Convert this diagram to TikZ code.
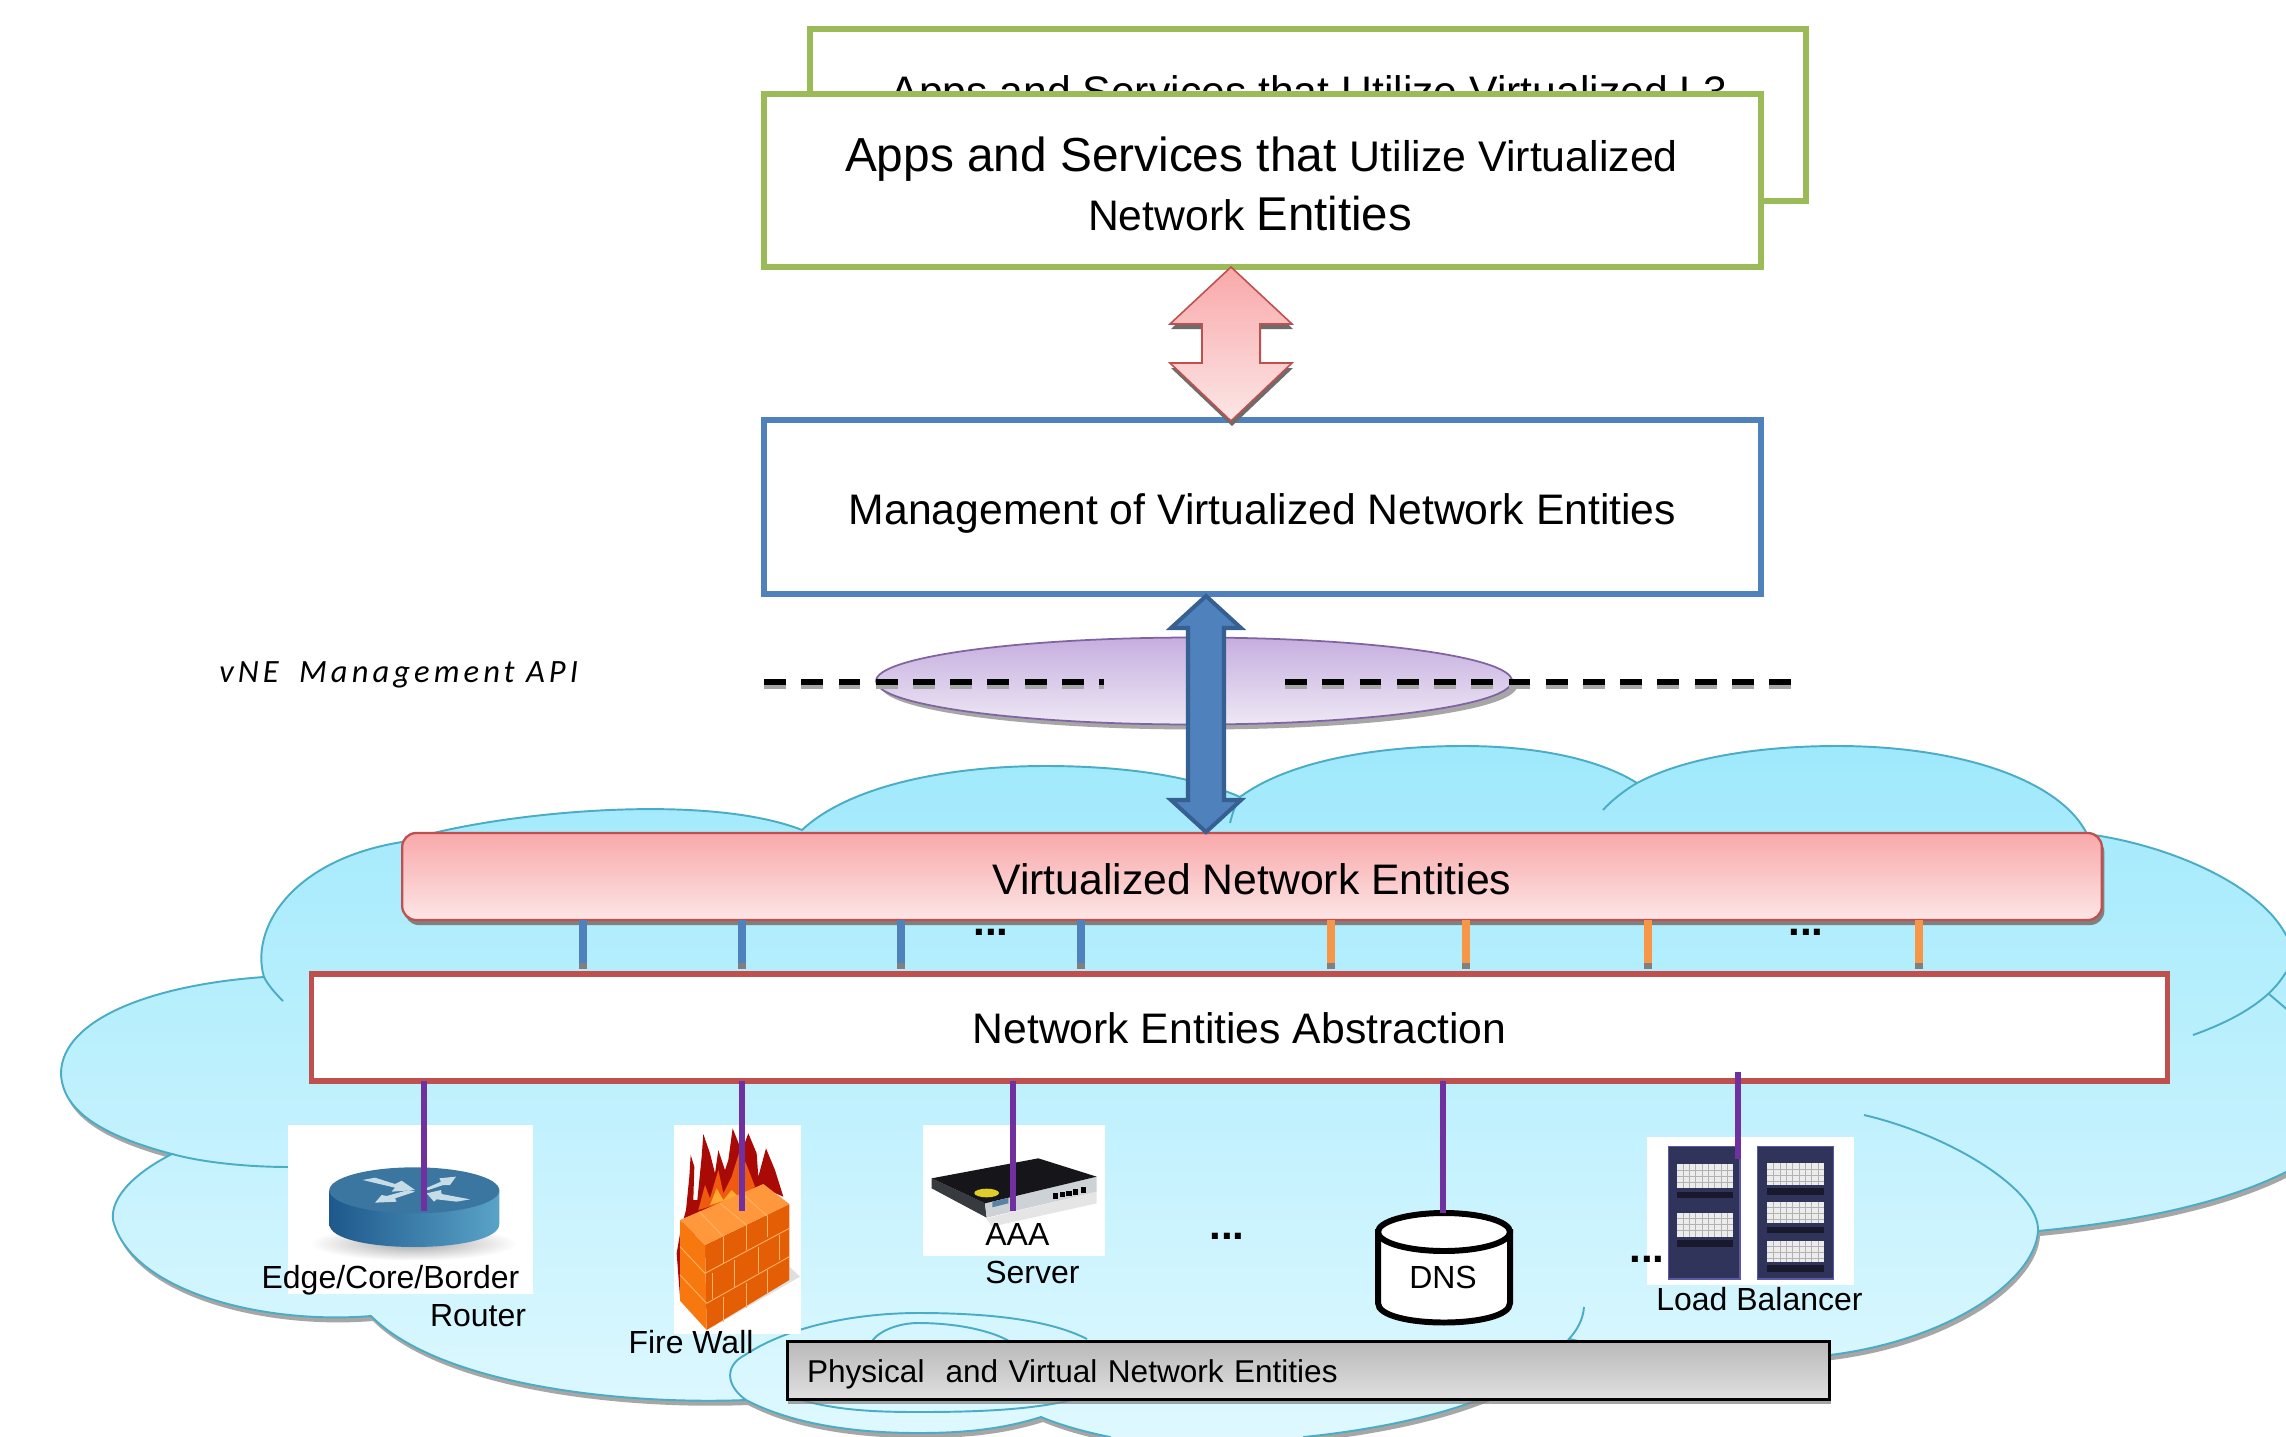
\documentclass[tikz,border=0pt]{standalone}
\usepackage{fontspec}
\setmainfont{Liberation Sans}
\newfontfamily\apifont[LetterSpace=12.6]{Carlito}
\usetikzlibrary{shapes.geometric,shadows,calc}
\definecolor{cloudline}{HTML}{4BACC6}
\definecolor{cloudtop}{HTML}{9FE9FC}
\definecolor{cloudbot}{HTML}{E2F9FF}
\definecolor{greenline}{HTML}{9BBB59}
\definecolor{blueline}{HTML}{4F81BD}
\definecolor{bluedark}{HTML}{376092}
\definecolor{redline}{HTML}{C0504D}
\definecolor{purpleline}{HTML}{7030A0}
\definecolor{orangeline}{HTML}{F79646}
\definecolor{ellline}{HTML}{8064A2}
\definecolor{elltop}{HTML}{C6AEDF}
\definecolor{ellbot}{HTML}{EEE8F5}
\definecolor{shadowgray}{HTML}{A6A6A6}
\definecolor{pinktop}{HTML}{F9A8AA}
\definecolor{pinkbot}{HTML}{FCE6E6}
\definecolor{rtleft}{HTML}{1E588C}
\definecolor{rtright}{HTML}{5AA3C8}
\definecolor{rttop}{HTML}{3A76A0}
\definecolor{rtarrow}{HTML}{C6DDE8}
\tikzset{
  txtbig/.style={font=\fontsize{24.3}{29}\selectfont},
  txtsmall/.style={font=\fontsize{18.2}{22}\selectfont},
  framebox/.style={rectangle,fill=white,line width=3pt,inner sep=0pt,outer sep=0pt,txtbig},
  labelnode/.style={txtsmall,anchor=base,inner sep=0pt},
  dotsnode/.style={anchor=base,inner sep=0pt,font=\fontsize{24}{28}\bfseries\selectfont},
  imgbox/.style={rectangle,fill=white,inner sep=0pt,outer sep=0pt},
  bluelink/.style={blueline,line width=4.8pt},
  orangelink/.style={orangeline,line width=4.4pt},
  purplelink/.style={purpleline,line width=2.9pt},
  linktail/.style={gray,line width=4.4pt},
  cloudarc/.style={cloudline,line width=1.1pt},
  dashline/.style={line width=3.4pt,dash pattern=on 12.5pt off 8.7pt},
  brick/.style={line width=0.5pt,draw=orange!60!white}
}
\def\cloudshape{(264,977)
 .. controls (250,930) and (290,860) .. (402,842)
 .. controls (480,815) and (700,790) .. (802,830)
 .. controls (850,785) and (950,766) .. (1045,766)
 .. controls (1120,766) and (1190,775) .. (1240,797)
 .. controls (1290,760) and (1380,746) .. (1463,746)
 .. controls (1540,746) and (1600,760) .. (1637,783)
 .. controls (1690,755) and (1770,746) .. (1837,746)
 .. controls (1960,746) and (2060,780) .. (2087,834)
 .. controls (2170,845) and (2260,885) .. (2286,935)
 .. controls (2300,955) and (2305,965) .. (2300,978)
 .. controls (2340,1030) and (2340,1140) .. (2286,1172)
 .. controls (2220,1205) and (2130,1222) .. (2038,1231)
 .. controls (2035,1280) and (1950,1340) .. (1830,1355)
 .. controls (1740,1365) and (1640,1355) .. (1569,1339)
 .. controls (1530,1395) and (1420,1425) .. (1304,1437)
 -- (1304,1470) -- (1125,1470) -- (1110,1437)
 .. controls (1085,1432) and (1060,1425) .. (1041,1417)
 .. controls (1000,1430) and (960,1433) .. (918,1433)
 .. controls (850,1433) and (790,1423) .. (746,1400)
 .. controls (620,1405) and (440,1385) .. (371,1316)
 .. controls (260,1325) and (130,1290) .. (113,1220)
 .. controls (110,1195) and (140,1170) .. (172,1154)
 .. controls (100,1135) and (62,1110) .. (61,1073)
 .. controls (62,1020) and (150,985) .. (264,977) -- cycle}
\def\pinkshape#1#2{(#1) -- ++(61,57) -- ++(-32,0) -- ++(0,39) -- ++(32,0) -- (#2) -- ++(-61,-58) -- ++(32,0) -- ++(0,-39) -- ++(-32,0) -- cycle}
\begin{document}
\begin{tikzpicture}[x=0.02cm,y=-0.02cm]
\useasboundingbox (0,0) rectangle (2286,1437);
\clip (0,0) rectangle (2286,1437);
\fill[white] (0,0) rectangle (2286,1437);
% cloud
\fill[shadowgray,shift={(2,5)}] \cloudshape;
\shade[top color=cloudtop,bottom color=cloudbot,draw=cloudline,line width=1.1pt] \cloudshape;
\draw[cloudarc] (264,977) .. controls (268,985) and (275,993) .. (283,1001);
\draw[cloudarc] (172,1154) .. controls (205,1163) and (250,1167) .. (290,1167);
\draw[cloudarc] (1230,823) .. controls (1232,815) and (1235,805) .. (1240,797);
\draw[cloudarc] (1603,810) .. controls (1612,800) and (1625,790) .. (1637,783);
\draw[cloudarc] (2286,972) .. controls (2270,1000) and (2235,1020) .. (2193,1035);
\draw[cloudarc] (2269,994) -- (2290,1012);
\draw[cloudarc] (1864,1115) .. controls (1950,1135) and (2040,1190) .. (2038,1231);
\draw[cloudarc] (1584,1307) .. controls (1583,1320) and (1577,1330) .. (1569,1339);
\draw[cloudarc] (746,1400) .. controls (725,1385) and (725,1365) .. (745,1355) .. controls (790,1325) and (860,1313) .. (918,1313) .. controls (990,1313) and (1050,1320) .. (1087,1339);
\draw[cloudarc] (872,1341) .. controls (880,1330) and (900,1323) .. (918,1323) .. controls (960,1323) and (1000,1332) .. (1018,1347);
\draw[cloudarc] (788,1396) .. controls (830,1410) and (870,1412) .. (918,1412) .. controls (980,1412) and (1040,1410) .. (1087,1396);
% top boxes
\node[framebox,draw=greenline,minimum width=19.92cm,minimum height=3.44cm] (backapps) at (1308,115) {};
\node[inner sep=0pt,txtbig,anchor=base] (backtxt) at (1309,106) {Apps and Services that Utilize Virtualized L3};
\node[framebox,draw=greenline,minimum width=19.94cm,minimum height=3.46cm] (apps) at (1262.5,180.5) {};
\node[inner sep=0pt,anchor=base,align=center] (appstxt) at (1250,230) {\fontsize{27.2}{33.2}\selectfont Apps and Services that \fontsize{24.4}{33.2}\selectfont Utilize Virtualized\hspace*{-13pt}\\[7pt]\fontsize{24.3}{33.2}\selectfont Network \fontsize{27}{33.2}\selectfont Entities};
\node[framebox,draw=blueline,minimum width=19.94cm,minimum height=3.48cm,text height=20.3pt,text depth=0pt] (mgmt) at (1262.5,507) {Management of Virtualized Network Entities};
% pink arrow
\coordinate (pinkT) at (1231,267);
\coordinate (pinkB) at (1231,421);
\coordinate (pinkTs) at ($(pinkT)+(1,5)$);
\coordinate (pinkBs) at ($(pinkB)+(1,5)$);
\fill[gray!85!black] \pinkshape{pinkTs}{pinkBs};
\shade[top color=pinktop,bottom color=pinkbot,draw=redline,line width=0.9pt] \pinkshape{pinkT}{pinkB};
% API ellipse and dashes
\fill[shadowgray] (1199,686) ellipse (318 and 43.5);
\node[ellipse,draw=ellline,line width=1pt,top color=elltop,bottom color=ellbot,minimum width=12.72cm,minimum height=1.74cm,inner sep=0pt] (apiell) at (1194,681) {};
\coordinate (dashA) at (764,682);
\coordinate (dashB) at (1104,682);
\coordinate (dashC) at (1285,682);
\coordinate (dashD) at (1792,682);
\draw[dashline,gray!70] ($(dashA)+(0,4)$) -- ($(dashB)+(0,4)$);
\draw[dashline,gray!70] ($(dashC)+(0,4)$) -- ($(dashD)+(0,4)$);
\draw[dashline,black] (dashA) -- (dashB);
\draw[dashline,black] (dashC) -- (dashD);
\node[inner sep=0pt,anchor=base west,font=\fontsize{18.5}{22}\apifont\itshape] (apilabel) at (219,682) {vNE\hspace{5pt} Management API};
% virtualized entities
\node[rectangle,rounded corners=0.28cm,draw=redline,line width=1.3pt,top color=pinktop,bottom color=pinkbot,drop shadow={shadow xshift=0.05cm,shadow yshift=-0.1cm,fill=gray,opacity=1},minimum width=34cm,minimum height=1.74cm,inner sep=0pt,outer sep=0pt,txtbig,text height=20pt,text depth=0pt] (vne) at (1252,876.5) {Virtualized Network Entities};
% abstraction
\node[framebox,draw=redline,minimum width=37.14cm,minimum height=2.14cm,text height=18.6pt,text depth=0pt] (nea) at (1239.5,1027.5) {Network Entities Abstraction};
% links between layers
\foreach \n/\x in {b1/583,b2/742,b3/901,b4/1081}{
  \coordinate (\n) at (\x,969);
  \draw[bluelink] (vne.south -| \n) -- (\n);
  \draw[linktail] ($(\n)+(0,-6)$) -- (\n);
}
\foreach \n/\x in {o1/1331,o2/1466,o3/1648,o4/1919}{
  \coordinate (\n) at (\x,969);
  \draw[orangelink] (vne.south -| \n) -- (\n);
  \draw[linktail] ($(\n)+(0,-6)$) -- (\n);
}
\node[dotsnode] (dots1) at (991,935) {...};
\node[dotsnode] (dots2) at (1806,935) {...};
% images
\node[imgbox,minimum width=4.9cm,minimum height=3.38cm] (routerimg) at (410.5,1209.5) {};
\node[imgbox,minimum width=2.54cm,minimum height=4.18cm] (fwimg) at (737.5,1229.5) {};
\node[imgbox,minimum width=3.64cm,minimum height=2.62cm] (aaaimg) at (1014,1190.5) {};
\node[imgbox,minimum width=4.14cm,minimum height=2.96cm] (lbimg) at (1750.5,1211) {};
% router
\begin{scope}[shift={(280,1110)},scale=0.3333]
\shade[inner color=gray!70,outer color=white] (400,400) ellipse (310 and 52);
\shade[left color=rtleft,right color=rtright] (148,241) -- (148,342) .. controls (148,434) and (658,434) .. (658,342) -- (658,241) -- cycle;
\fill[rttop] (403,241) ellipse (255 and 69);
\fill[rtarrow] (248,210) -- (285,203) -- (345,222) -- (365,212) -- (405,240) -- (335,245) -- (345,233) -- cycle;
\fill[rtarrow] (440,250) -- (483,240) -- (485,252) -- (570,268) -- (530,275) -- (470,268) -- (462,275) -- cycle;
\fill[rtarrow] (430,238) -- (483,215) -- (478,205) -- (528,200) -- (510,225) -- (490,225) -- (445,240) -- cycle;
\fill[rtarrow] (405,245) -- (345,265) -- (350,275) -- (285,278) -- (305,255) -- (320,258) -- (385,240) -- cycle;
\end{scope}
% firewall
\definecolor{fwdark}{HTML}{AA0A05}
\definecolor{fwmid}{HTML}{F05A0F}
\definecolor{fwyel}{HTML}{FFAA32}
\definecolor{fwright}{HTML}{E45E06}
\definecolor{fwleft}{HTML}{F87810}
\definecolor{fwtop}{HTML}{FF983C}
\begin{scope}[shift={(660,1110)},scale=0.3333]
\fill[gray!25] (388,470) -- (420,500) -- (160,650) -- (140,660) -- (388,510) -- cycle;
\fill[fwdark] (60,560) -- (50,430) -- (62,360) -- (78,300) -- (88,200) -- (92,135) -- (103,170) -- (100,270) -- (112,270) -- (125,140) -- (130,72) -- (150,130) -- (165,190) -- (175,120) -- (195,180) -- (205,150) -- (218,55) -- (240,110) -- (250,110) -- (265,70) -- (290,130) -- (295,200) -- (318,115) -- (345,180) -- (370,260) -- (300,230) -- (120,310) -- cycle;
\fill[fwmid] (115,300) -- (135,225) -- (150,265) -- (175,180) -- (190,250) -- (215,200) -- (240,120) -- (262,170) -- (285,230) -- (250,260) -- cycle;
\fill[fwyel] (150,285) -- (170,235) -- (190,270) -- (215,240) -- (235,260) -- cycle;
\fill[fwright] (135,405) -- (388,282) -- (388,510) -- (140,660) -- cycle;
\fill[fwleft] (60,330) -- (135,405) -- (140,660) -- (60,572) -- cycle;
\fill[fwtop] (60,330) -- (310,222) -- (388,282) -- (135,405) -- cycle;
\draw[brick] (118,305) -- (190,380);
\draw[brick] (180,280) -- (260,345);
\draw[brick] (248,252) -- (322,318);
\draw[brick] (135,490) -- (388,355);
\draw[brick] (140,580) -- (388,440);
\draw[brick] (60,410) -- (135,490);
\draw[brick] (60,495) -- (140,580);
\draw[brick] (190,380) -- (190,460);
\draw[brick] (260,345) -- (260,420);
\draw[brick] (322,318) -- (322,382);
\draw[brick] (158,490) -- (158,568);
\draw[brick] (222,450) -- (222,530);
\draw[brick] (295,410) -- (295,490);
\draw[brick] (358,375) -- (358,450);
\draw[brick] (190,560) -- (190,635);
\draw[brick] (260,520) -- (260,595);
\draw[brick] (322,480) -- (322,550);
\end{scope}
% AAA device
\definecolor{aaaside}{HTML}{373A3E}
\definecolor{aaafront}{HTML}{CDD2D7}
\definecolor{aaatop}{HTML}{16161A}
\definecolor{aaayel}{HTML}{E1CD28}
\definecolor{aaablue}{HTML}{5A82A5}
\begin{scope}[shift={(915,1120)},scale=0.3333]
\fill[gray!20] (215,295) -- (545,215) -- (545,250) -- (230,320) -- cycle;
\fill[aaaside] (50,175) -- (210,250) -- (215,293) -- (50,205) -- cycle;
\fill[aaafront] (210,250) -- (545,170) -- (545,215) -- (215,293) -- cycle;
\fill[aaatop] (50,175) -- (370,115) -- (545,170) -- (210,250) -- cycle;
\fill[aaayel] (215,219) ellipse (37 and 13);
\foreach \ptx/\pty in {422/228,442/224,462/220,482/216,505/210}{\fill[black] (\ptx-8,\pty-8) rectangle (\ptx+8,\pty+8);}
\fill[aaablue] (232,245) -- (280,234) -- (280,250) -- (232,262) -- cycle;
\end{scope}
% load balancer
\definecolor{rackbg}{HTML}{30345A}
\definecolor{rackstrip}{HTML}{19192D}
\begin{scope}[shift={(1640,1130)},scale=0.3333]
\foreach \xa/\xb in {85/300,353/580}{
  \fill[rackbg,draw=gray!70!blue,line width=0.8pt] (\xa,50) rectangle (\xb,447);
}
\foreach \xa/\xb/\ya/\yb in {110/280/103/175,110/280/248/320,382/553/100/165,382/553/215/280,382/553/332/395}{
  \fill[gray!15] (\xa,\ya) rectangle (\xb,\yb);
  \foreach \k in {1,2,3}{\draw[gray!60,line width=0.8pt] (\xa,\ya+\k*18) -- (\xb,\ya+\k*18);}
  \foreach \k in {1,...,8}{\draw[gray!60,line width=0.5pt] (\xa+\k*19,\ya) -- (\xa+\k*19,\yb);}
  \fill[rackstrip] (\xa,\yb+10) rectangle (\xb,\yb+30);
}
\end{scope}
% DNS cylinder
\fill[white,draw=black,line width=3.4pt] (1378,1232) -- (1378,1303) .. controls (1378,1329) and (1510,1329) .. (1510,1303) -- (1510,1232) -- cycle;
\draw[fill=white,draw=black,line width=3.4pt] (1444,1232) ellipse (66 and 19);
\node[labelnode] (dns) at (1443,1288) {DNS};
% purple links
\coordinate (pr) at (424,1211);
\coordinate (pf) at (742,1211);
\coordinate (pa) at (1013,1211);
\coordinate (pd) at (1443,1213);
\coordinate (pl) at (1738,1159);
\coordinate (plt) at (1738,1072);
\draw[purplelink] (nea.south -| pr) -- (pr);
\draw[purplelink] (nea.south -| pf) -- (pf);
\draw[purplelink] (nea.south -| pa) -- (pa);
\draw[purplelink] (nea.south -| pd) -- (pd);
\draw[purplelink] (plt) -- (pl);
% labels
\node[labelnode] (edge) at (390.5,1288.5) {Edge/Core/Border};
\node[labelnode] (router) at (478,1326) {Router};
\node[labelnode,anchor=base west] (aaa) at (985,1245) {AAA};
\node[labelnode,anchor=base west] (server) at (985,1283) {Server};
\node[labelnode] (fw) at (691,1353) {Fire Wall};
\node[labelnode] (lb) at (1759.5,1310) {Load Balancer};
\node[dotsnode] (dots3) at (1227,1239) {...};
\node[dotsnode] (dots4) at (1647,1262) {...};
% physical bar
\node[rectangle,draw=black,line width=1.7pt,top color=gray!55,bottom color=gray!25,drop shadow={shadow xshift=0.02cm,shadow yshift=-0.1cm,fill=gray,opacity=0.7},minimum width=20.86cm,minimum height=1.16cm,inner ysep=0pt,inner xsep=0.4cm,text width=20.06cm,align=left,outer sep=0pt,font=\fontsize{17.95}{22}\selectfont,text height=14.5pt,text depth=0pt] (phys) at (1308.5,1370) {Physical\ \ and Virtual Network Entities};
% blue arrow
\coordinate (blueT) at (1206,596);
\coordinate (blueB) at (1206,832);
\draw[fill=blueline,draw=bluedark,line width=2.3pt,line join=miter] (blueT) -- ++(35,32) -- ++(-17,0) -- ++(0,172) -- ++(17,0) -- (blueB) -- ++(-35,-32) -- ++(17,0) -- ++(0,-172) -- ++(-17,0) -- cycle;
\end{tikzpicture}
\end{document}
